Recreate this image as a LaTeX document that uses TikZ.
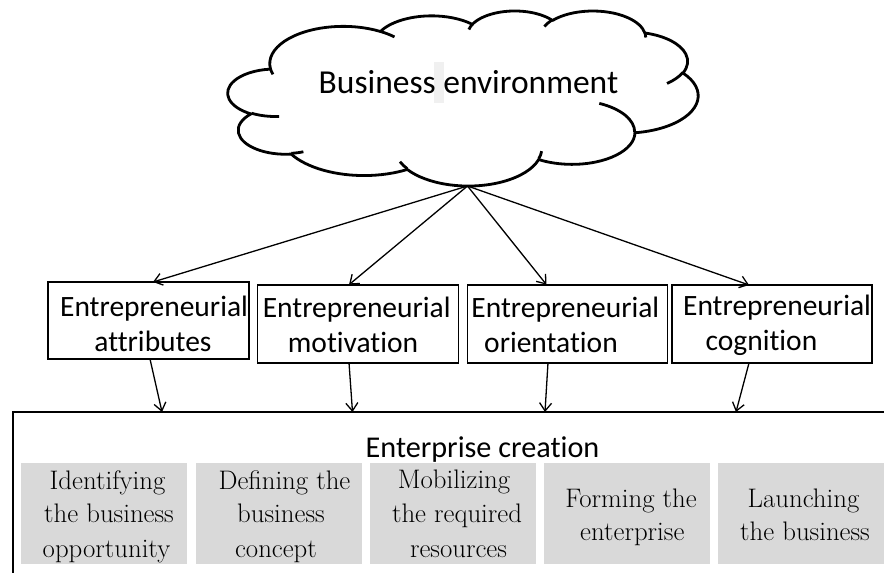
\documentclass[tikz,border=0pt]{standalone}
\usepackage{fontspec}
\newfontfamily\calib[Ligatures={NoCommon,NoRare,NoContextual}]{Carlito}
\usetikzlibrary{arrows.meta}
\definecolor{boxgray}{HTML}{D9D9D9}
\definecolor{hlgray}{HTML}{F0F0F0}
\newcommand\ooconv[5]{%
  \pgfmathsetmacro\ootmpS{#4}%
  \pgfmathsetmacro\ootmpE{#4+#5}%
  \pgfmathsetmacro\ootmpTS{atan2(#2*sin(\ootmpS),#3*cos(\ootmpS))}%
  \pgfmathsetmacro\ootmpTE{atan2(#2*sin(\ootmpE),#3*cos(\ootmpE))}%
  \pgfmathsetmacro\ootmpD{mod(\ootmpTE-\ootmpTS+720,360)}%
  \expandafter\xdef\csname ooS#1\endcsname{\ootmpTS}%
  \expandafter\xdef\csname ooD#1\endcsname{\ootmpD}%
}
\tikzset{
  cloudline/.style={line width=2.8pt, line join=round},
  ebox/.style={draw, line width=1.7pt, inner sep=0pt, outer sep=0pt, anchor=north west},
  gbox/.style={fill=boxgray, inner sep=0pt, outer sep=0pt, anchor=north west, minimum width=166pt, minimum height=101pt},
  bigbox/.style={draw, line width=1.7pt, inner sep=0pt, outer sep=0pt, anchor=north west},
  etext/.style={font=\calib\fontsize{29.5}{35}\selectfont, inner sep=0pt, anchor=base},
  gtext/.style={font=\fontsize{26.8}{33.5}\selectfont, text=black, inner sep=0pt, anchor=base},
  ctext/.style={font=\calib\fontsize{33.5}{40}\selectfont, inner sep=0pt, anchor=base},
  htext/.style={font=\calib\fontsize{30.2}{36}\selectfont, inner sep=0pt, anchor=base},
  arr/.style={line width=1.3pt, -{Straight Barb[length=8pt, width=12pt]}},
}
\begin{document}
\begin{tikzpicture}[x=1pt, y=-1pt]
\useasboundingbox (0,0) rectangle (884,573);
\fill[white] (0,0) rectangle (884,573);
% cloud arc parameters (Office cloud shape, visual angles -> parametric)
\ooconv{A}{67.53}{91.90}{-190.487483}{123.780533}
\ooconv{B}{53.33}{72.67}{-144.102383}{89.945233}
\ooconv{C}{43.65}{59.45}{-145.807917}{99.723017}
\ooconv{D}{48.57}{65.95}{-130.986067}{117.241733}
\ooconv{E}{53.33}{72.73}{-78.708883}{109.026917}
\ooconv{F}{67.75}{92.20}{-46.26725}{130.269}
\ooconv{G}{57.85}{78.67}{0.625017}{114.033333}
\ooconv{H}{67.52}{92.15}{22.4516}{115.17255}
\ooconv{I}{77.20}{105.43}{66.242633}{75.711017}
\ooconv{J}{43.60}{59.18}{-274.942083}{146.735567}
\ooconv{K}{43.45}{59.45}{-246.8285}{152.51885}
\ooconv{a}{43.45}{59.45}{86.742}{26.4295}
\ooconv{b}{43.60}{59.18}{73.610467}{11.447467}
\ooconv{c}{67.52}{92.15}{137.62415}{14.0811}
\ooconv{d}{67.52}{92.15}{6.453267}{15.99835}
\ooconv{e}{57.85}{78.67}{-70.29235}{70.917367}
\ooconv{f}{53.33}{72.73}{30.318033}{27.7515}
\ooconv{g}{48.57}{65.95}{-13.744333}{14.865983}
\ooconv{h}{48.57}{65.95}{-149.18145}{18.197}
\ooconv{i}{43.65}{59.45}{-163.494267}{17.689667}
\ooconv{j}{67.53}{91.90}{-66.70695}{12.31935}
\ooconv{k}{67.53}{91.90}{157.65435}{11.858167}
% highlight behind the space
\fill[hlgray] (434,62) rectangle (444,103);
\begin{scope}[shift={(228pt,-10.4pt)}, xscale=1.08796, yscale=-0.405093]
\draw[cloudline] (39.00pt,143.70pt)
  arc[start angle=\ooSA, delta angle=\ooDA, x radius=67.53pt, y radius=91.90pt]
  arc[start angle=\ooSB, delta angle=\ooDB, x radius=53.33pt, y radius=72.67pt]
  arc[start angle=\ooSC, delta angle=\ooDC, x radius=43.65pt, y radius=59.45pt]
  arc[start angle=\ooSD, delta angle=\ooDD, x radius=48.57pt, y radius=65.95pt]
  arc[start angle=\ooSE, delta angle=\ooDE, x radius=53.33pt, y radius=72.73pt]
  arc[start angle=\ooSF, delta angle=\ooDF, x radius=67.75pt, y radius=92.20pt]
  arc[start angle=\ooSG, delta angle=\ooDG, x radius=57.85pt, y radius=78.67pt]
  arc[start angle=\ooSH, delta angle=\ooDH, x radius=67.52pt, y radius=92.15pt]
  arc[start angle=\ooSI, delta angle=\ooDI, x radius=77.20pt, y radius=105.43pt]
  arc[start angle=\ooSJ, delta angle=\ooDJ, x radius=43.60pt, y radius=59.18pt]
  arc[start angle=\ooSK, delta angle=\ooDK, x radius=43.45pt, y radius=59.45pt]
  -- cycle;
\draw[cloudline]
  (46.93pt,261.77pt) arc[start angle=\ooSa, delta angle=\ooDa, x radius=43.45pt, y radius=59.45pt]
  (69.28pt,348.99pt) arc[start angle=\ooSb, delta angle=\ooDb, x radius=43.60pt, y radius=59.18pt]
  (164.78pt,390.90pt) arc[start angle=\ooSc, delta angle=\ooDc, x radius=67.52pt, y radius=92.15pt]
  (288.27pt,347.51pt) arc[start angle=\ooSd, delta angle=\ooDd, x radius=67.52pt, y radius=92.15pt]
  (341.29pt,229.54pt) arc[start angle=\ooSe, delta angle=\ooDe, x radius=57.85pt, y radius=78.67pt]
  (417.98pt,153.54pt) arc[start angle=\ooSf, delta angle=\ooDf, x radius=53.33pt, y radius=72.73pt]
  (383.24pt,54.26pt) arc[start angle=\ooSg, delta angle=\ooDg, x radius=48.57pt, y radius=65.95pt]
  (290.78pt,39.52pt) arc[start angle=\ooSh, delta angle=\ooDh, x radius=48.57pt, y radius=65.95pt]
  (221.41pt,47.20pt) arc[start angle=\ooSi, delta angle=\ooDi, x radius=43.65pt, y radius=59.45pt]
  (140.00pt,51.92pt) arc[start angle=\ooSj, delta angle=\ooDj, x radius=67.53pt, y radius=91.90pt]
  (41.27pt,157.89pt) arc[start angle=\ooSk, delta angle=\ooDk, x radius=67.53pt, y radius=91.90pt];
\end{scope}
\node[ctext] (env) at (468.5,93) {Business environment};
\coordinate (apex) at (467.5,186);
% entrepreneurial boxes
\node[ebox, minimum width=201pt, minimum height=77pt] (e1) at (48,282) {};
\node[ebox, minimum width=201pt, minimum height=78pt] (e2) at (257.5,284.7) {};
\node[ebox, minimum width=200pt, minimum height=78pt] (e3) at (467.5,284.7) {};
\node[ebox, minimum width=200pt, minimum height=78pt] (e4) at (672,285) {};
\node[etext] (e1a) at (154,316.7) {Entrepreneurial};
\node[etext] (e1b) at (153,351.7) {attributes};
\node[etext] (e2a) at (356.7,317) {Entrepreneurial};
\node[etext] (e2b) at (353,352) {motivation};
\node[etext] (e3a) at (565.3,317) {Entrepreneurial};
\node[etext] (e3b) at (551,352) {orientation};
\node[etext] (e4a) at (777,315) {Entrepreneurial};
\node[etext] (e4b) at (761.5,350) {cognition};
% arrows from cloud
\draw[arr] (apex) -- ([xshift=4.5pt]e1.north);
\draw[arr] (apex) -- ([xshift=-9pt]e2.north);
\draw[arr] (apex) -- ([xshift=-21pt]e3.north);
\draw[arr] (apex) -- ([xshift=-23pt]e4.north);
% enterprise creation box
\node[bigbox, minimum width=900pt, minimum height=220pt] (ec) at (13,412) {};
\coordinate (d1) at (162,412);
\coordinate (d2) at (352.5,412);
\coordinate (d3) at (545,412);
\coordinate (d4) at (736,412);
\draw[arr] ([xshift=1.5pt]e1.south) -- (d1);
\draw[arr] ([xshift=-9pt]e2.south) -- (d2);
\draw[arr] ([xshift=-19.5pt]e3.south) -- (d3);
\draw[arr] ([xshift=-23pt]e4.south) -- (d4);
\node[htext] (ect) at (482.5,457) {Enterprise creation};
% stages
\node[gbox] (g1) at (21,463) {};
\node[gbox] (g2) at (196,463) {};
\node[gbox] (g3) at (370,463) {};
\node[gbox] (g4) at (544,463) {};
\node[gbox] (g5) at (718,463) {};
\node[gtext] (g1a) at (107.5,489) {Identifying};
\node[gtext] (g1b) at (109,522) {the business};
\node[gtext] (g1c) at (106.5,557) {opportunity};
\node[gtext] (g2a) at (284.5,489) {Defining the};
\node[gtext] (g2b) at (281,522) {business};
\node[gtext] (g2c) at (276,557) {concept};
\node[gtext] (g3a) at (454,488) {Mobilizing};
\node[gtext] (g3b) at (457,522) {the required};
\node[gtext] (g3c) at (458.5,557) {resources};
\node[gtext] (g4a) at (631,507.3) {Forming the};
\node[gtext] (g4b) at (632.3,540) {enterprise};
\node[gtext] (g5a) at (803.5,507.3) {Launching};
\node[gtext] (g5b) at (805,540) {the business};
\end{tikzpicture}
\end{document}
